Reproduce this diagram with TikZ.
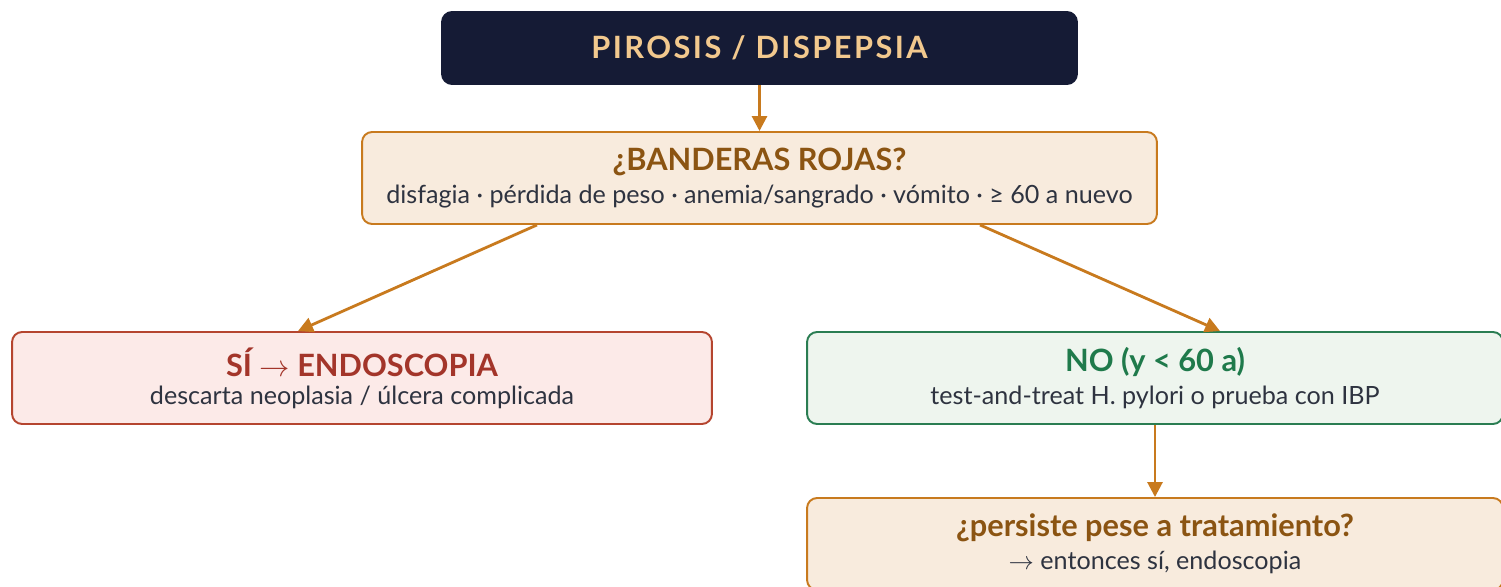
\documentclass[tikz,border=0pt]{standalone}
\usepackage{fontspec}
\setmainfont{Lato}
\newfontfamily\headfont[LetterSpace=8]{Lato}
\usetikzlibrary{calc,arrows.meta,positioning}
\definecolor{navy}{HTML}{151B35}
\definecolor{wheat}{HTML}{F2C98E}
\definecolor{amber}{HTML}{C87A1E}
\definecolor{sand}{HTML}{F8EBDD}
\definecolor{umber}{HTML}{8B5412}
\definecolor{slate}{HTML}{2E3340}
\definecolor{rosefill}{HTML}{FCEAE8}
\definecolor{rust}{HTML}{B5452F}
\definecolor{rusttext}{HTML}{A3352A}
\definecolor{mintfill}{HTML}{EEF5EE}
\definecolor{pine}{HTML}{2A7D52}
\definecolor{pinetext}{HTML}{1F7A4B}
\tikzset{
  flow box/.style={rounded corners=0.2cm,line width=1.1pt,align=center,inner sep=0pt,minimum height=1.84cm},
  start box/.style={flow box,fill=navy,draw=navy,minimum width=12.7cm,minimum height=1.44cm},
  question box/.style={flow box,fill=sand,draw=amber},
  yes box/.style={flow box,fill=rosefill,draw=rust},
  no box/.style={flow box,fill=mintfill,draw=pine},
  flow arrow/.style={line width=1.6pt,draw=amber,-{Triangle[length=8.5pt,width=8.5pt]}},
  >=Stealth,
}
\newcommand{\boxTitle}[2]{{\color{#1}\fontsize{17.5}{20}\selectfont\bfseries #2}}
\newcommand{\boxNote}[1]{{\color{slate}\fontsize{14.3}{17}\selectfont #1}}

\begin{document}
\begin{tikzpicture}[x=0.02cm,y=-0.02cm]
\useasboundingbox (0,0) rectangle (1501,587);
\node[start box] (start) at (759.5,48) {{\headfont\color{wheat}\fontsize{17.5}{20}\selectfont\bfseries PIROSIS / DISPEPSIA}};
\node[question box,minimum width=15.9cm] (flags) at (759.5,178) {\boxTitle{umber}{¿BANDERAS ROJAS?}\\[4pt]\boxNote{disfagia · pérdida de peso · anemia/sangrado · vómito · ≥ 60 a nuevo}};
\node[yes box,minimum width=14cm] (yes) at (362,378) {\boxTitle{rusttext}{SÍ {\mdseries$\rightarrow$} ENDOSCOPIA}\\[4pt]\boxNote{descarta neoplasia / úlcera complicada}};
\node[no box,minimum width=13.92cm] (no) at (1155,378) {\boxTitle{pinetext}{NO (y < 60 a)}\\[4pt]\boxNote{test-and-treat H. pylori o prueba con IBP}};
\node[question box,minimum width=13.92cm] (persist) at (1155,544) {\boxTitle{umber}{¿persiste pese a tratamiento?}\\[4pt]\boxNote{$\rightarrow$ entonces sí, endoscopia}};
% connectors
\draw[flow arrow] (start) -- (flags);
\draw[flow arrow] ($(flags.south)+(-222.5,0)$) -- ($(yes.north)+(-64,0)$);
\draw[flow arrow] ($(flags.south)+(220.5,0)$) -- ($(no.north)+(65,0)$);
\draw[flow arrow] (no) -- (persist);
\end{tikzpicture}
\end{document}
